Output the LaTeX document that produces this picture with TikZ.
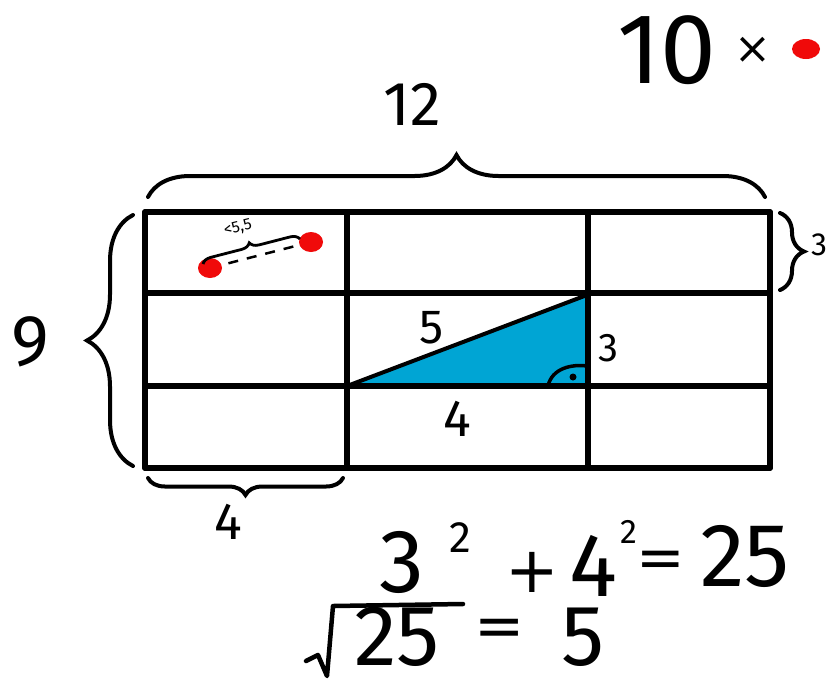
\documentclass[tikz,border=0pt]{standalone}
\usepackage{fontspec}
\setmainfont{Fira Sans}
\newfontfamily\dvfont{DejaVu Sans}
\usetikzlibrary{decorations.pathreplacing}
\definecolor{tri}{RGB}{0,165,212}
\definecolor{dotred}{RGB}{240,10,10}
\tikzset{
  gridline/.style={line width=5.5pt,line cap=round},
  bracestyle/.style={line width=4pt,line cap=round,decorate,decoration={brace,amplitude=#1}},
  hand/.style={inner sep=0pt,font=\fontsize{#1}{#1}\selectfont},
  sym/.style={inner sep=0pt,font=\dvfont\fontsize{#1}{#1}\selectfont},
  reddot/.style={fill=dotred,draw=none}
}
\begin{document}
\begin{tikzpicture}[x=1pt,y=-1pt]
\useasboundingbox[fill=white] (0,0) rectangle (832,678);
% triangle
\coordinate (A) at (347,386);
\coordinate (B) at (587,295);
\coordinate (C) at (587,386);
\fill[tri] (A) -- (B) -- (C) -- cycle;
\draw[line width=4pt,line cap=round] (A) -- (B);
\draw[line width=3.5pt] (548,386) .. controls (552,368) and (572,364) .. (587,366);
\fill (573,377) circle (3.5);
% grid
\foreach \y in {212,293,386,468} \draw[gridline] (145,\y) -- (770,\y);
\foreach \x in {145,347,588,770} \draw[gridline] (\x,212) -- (\x,468);
% braces
\draw[bracestyle=42pt] (148,197) -- (765,197);
\node[hand=62] (l12) at (412,104) {12};
\draw[bracestyle=46pt] (133,466) -- (133,215);
\node[hand=72] (l9) at (30,342) {9};
\draw[bracestyle=24pt] (780,213) -- (780,290);
\node[hand=32] (l3r) at (819,245) {3};
\draw[bracestyle=17pt] (343,478) -- (148,478);
\node[hand=52] (l4b) at (228,522) {4};
% triangle labels
\node[hand=48] (l5) at (432,328) {5};
\node[hand=40] (l3) at (608,348) {3};
\node[hand=52] (l4) at (457,419) {4};
% cell with dots
\coordinate (d1) at (210,268);
\coordinate (d2) at (311,242);
\draw[line width=2.5pt,dash pattern=on 10pt off 9pt] (d1) -- (d2);
\fill[reddot] (d1) ellipse (12 and 10);
\fill[reddot] (d2) ellipse (12 and 10);
\draw[line width=2.8pt,decorate,decoration={brace,amplitude=9pt}] (203,264) -- (300,239);
\node[hand=16,rotate=14] (l55) at (238,228) {<5,5};
% 10x
\node[hand=100] (l10) at (667,50) {10};
\node[sym=44] (lx) at (753,50) {×};
\fill[reddot] (806,49) ellipse (14 and 10);
% equations
\node[hand=90] (e3) at (402,562) {3};
\node[hand=44] (e2a) at (460,538) {2};
\node[sym=64] (ep) at (532,572) {+};
\node[hand=90] (e4) at (593,566) {4};
\node[hand=34] (e2b) at (629,532) {2};
\node[sym=58] (eeq) at (661,564) {=};
\node[hand=90] (e25) at (745,556) {25};
\draw[line width=4.5pt,line cap=round,line join=round] (306,661) -- (318,655) -- (327,676) -- (333,606) -- (463,604);
\node[hand=86] (s25) at (397,637) {25};
\node[sym=60] (seq) at (500,633) {=};
\node[hand=86] (s5) at (583,637) {5};
\end{tikzpicture}
\end{document}
